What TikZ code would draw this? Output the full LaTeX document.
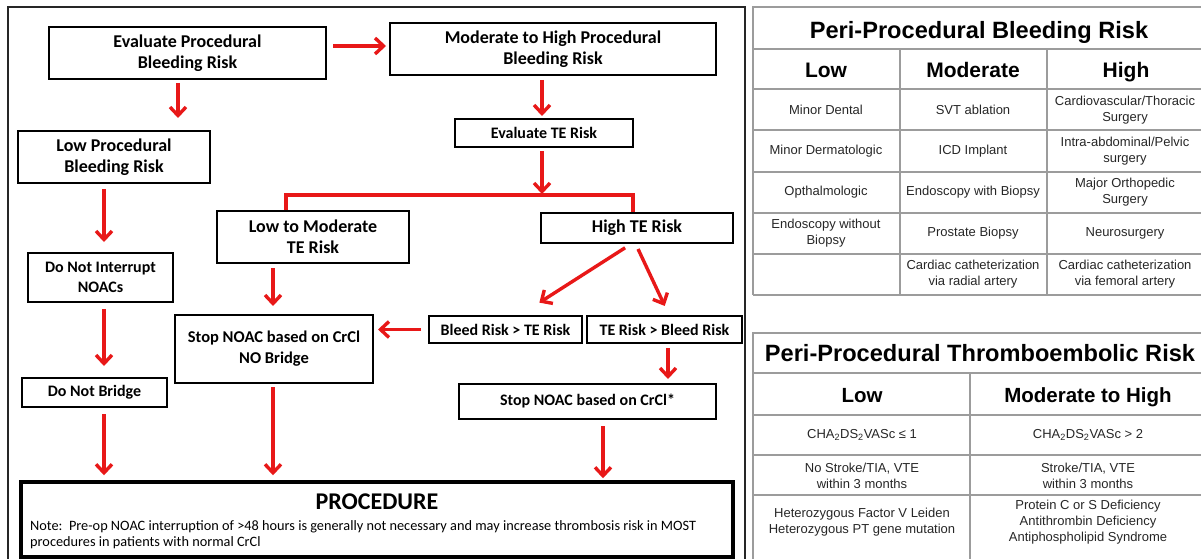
\documentclass[tikz,border=0pt]{standalone}
\usepackage{fontspec}
\setmainfont{Liberation Sans}
\newfontfamily\flowfont{Carlito}
\usepackage{tikz}
\usetikzlibrary{arrows.meta,calc}
\definecolor{arrowred}{HTML}{E81818}
\definecolor{gridgray}{HTML}{9C9C9C}
\definecolor{celltext}{HTML}{262626}
\tikzset{
  bigbox/.style={draw=black, line width=2pt, align=center, inner sep=0pt, font=\flowfont\bfseries\fontsize{18}{21}\selectfont},
  smallbox/.style={bigbox, font=\flowfont\bfseries\fontsize{16}{20}\selectfont},
  procbox/.style={draw=black, line width=3.5pt, inner sep=0pt},
  arr/.style={draw=arrowred, line width=3.4pt, -{Straight Barb[length=8.5pt,width=16pt]}},
  link/.style={draw=arrowred, line width=3.4pt},
  frame/.style={draw=black!85, line width=1.8pt},
  grid/.style={draw=gridgray, line width=1.2pt},
  tabtitle/.style={inner sep=0pt, text height=17pt, text depth=0pt, font=\bfseries\fontsize{23.6}{28}\selectfont},
  tabhead/.style={inner sep=0pt, text height=15pt, text depth=0pt, font=\bfseries\fontsize{21}{25}\selectfont},
  cell/.style={inner sep=0pt, align=center, text=celltext, font=\fontsize{13}{16}\selectfont}
}
\begin{document}
\begin{tikzpicture}[x=1pt,y=-1pt]
  \useasboundingbox (0,0) rectangle (1201,559);

  % flowchart frame
  \draw[frame] (8,570) |- (745,7) -- (745,570);

  % boxes
  \node[bigbox, minimum width=277pt, minimum height=52pt] (eval) at (187.5,53) {Evaluate Procedural\\Bleeding Risk};
  \node[bigbox, minimum width=326pt, minimum height=52pt] (modhigh) at (553,49) {Moderate to High Procedural\\Bleeding Risk};
  \node[bigbox, minimum width=192pt, minimum height=52pt] (lowproc) at (114,157) {Low Procedural\\Bleeding Risk};
  \node[smallbox, minimum width=145pt, minimum height=49pt] (nointerrupt) at (100.5,277.5) {Do Not Interrupt\\NOACs};
  \node[smallbox, minimum width=145pt, minimum height=29pt] (nobridge) at (94.5,392.5) {Do Not Bridge};
  \node[smallbox, minimum width=178pt, minimum height=28pt] (evalte) at (544,133) {Evaluate TE Risk};
  \node[bigbox, minimum width=192pt, minimum height=52pt] (lowmodte) at (313,237) {Low to Moderate\\TE Risk};
  \node[bigbox, minimum width=192pt, minimum height=30pt] (highte) at (637,228) {High TE Risk};
  \node[smallbox, minimum width=153pt, minimum height=27pt] (bleedgt) at (505.5,329.5) {Bleed Risk > TE Risk};
  \node[smallbox, minimum width=155pt, minimum height=27pt] (tegt) at (664.5,329.5) {TE Risk > Bleed Risk};
  \node[smallbox, minimum width=198pt, minimum height=68pt, font=\flowfont\bfseries\fontsize{16.5}{21}\selectfont] (stopnob) at (274,349) {Stop NOAC based on CrCl\\NO Bridge};
  \node[smallbox, minimum width=257pt, minimum height=35pt] (stopstar) at (587.5,401.5) {Stop NOAC based on CrCl*};
  \node[procbox, minimum width=712pt, minimum height=75pt] (proc) at (377,519.5) {};
  \node[inner sep=0pt, font=\flowfont\bfseries\fontsize{24}{28}\selectfont] (proctitle) at (377,502) {PROCEDURE};
  \node[inner sep=0pt, anchor=west, align=left, font=\flowfont\fontsize{14.3}{16}\selectfont] (procnote) at (30,535)
    {Note:\ \ Pre-op NOAC interruption of >48 hours is generally not necessary and may increase thrombosis risk in MOST\\procedures in patients with normal CrCl};

  % connectors
  \draw[arr, shorten <=6pt, shorten >=3pt] ([yshift=7pt]eval.east) -- ([yshift=3pt]modhigh.west);
  \draw[arr, shorten <=3pt, shorten >=12pt] ([xshift=-9.5pt]eval.south) -- ([xshift=-9.5pt]eval.south |- lowproc.north);
  \draw[arr, shorten <=5pt, shorten >=10pt] ([xshift=3.5pt]nointerrupt.north |- lowproc.south) -- ([xshift=3.5pt]nointerrupt.north);
  \draw[arr, shorten <=6pt, shorten >=11pt] ([xshift=3.5pt]nointerrupt.south) -- ([xshift=3.5pt]nointerrupt.south |- nobridge.north);
  \draw[arr, shorten <=6pt, shorten >=5pt] ([xshift=9.5pt]nobridge.south) -- ([xshift=9.5pt]nobridge.south |- proc.north);
  \draw[arr, shorten <=4pt, shorten >=2pt] ([xshift=-2pt]evalte.north |- modhigh.south) -- ([xshift=-2pt]evalte.north);
  \coordinate (split) at (542,195);
  \draw[arr, shorten <=3pt, shorten >=1pt] ([xshift=-2pt]evalte.south) -- (split);
  \draw[link] ([xshift=-27pt]lowmodte.north) |- (split) -| ([xshift=-4pt]highte.north);
  \draw[arr, shorten <=4pt, shorten >=8pt] ([xshift=-1pt]stopnob.north |- lowmodte.south) -- ([xshift=-1pt]stopnob.north);
  \draw[arr, shorten <=7pt, shorten >=23pt] ([xshift=-6pt]highte.south) -- ([xshift=14.5pt]bleedgt.north);
  \draw[arr, shorten <=5.5pt, shorten >=10pt] ([xshift=-1.3pt]highte.south) -- ([xshift=4.5pt]tegt.north);
  \draw[arr, shorten <=7pt, shorten >=4pt] (bleedgt.west) -- (bleedgt.west -| stopnob.east);
  \draw[arr, shorten <=4pt, shorten >=4pt] ([xshift=3.5pt]tegt.south) -- ([xshift=3.5pt]tegt.south |- stopstar.north);
  \draw[arr, shorten <=3pt, shorten >=5pt] ([xshift=-1pt]stopnob.south) -- ([xshift=-1pt]stopnob.south |- proc.north);
  \draw[arr, shorten <=6pt, shorten >=2pt] ([xshift=15.5pt]stopstar.south) -- ([xshift=15.5pt]stopstar.south |- proc.north);

  % bleeding risk table
  \draw[grid] (1210,7) -- (753,7) -- (753,295);
  \foreach \y in {49,89,130,172,213,254,295}
    \draw[grid] (753,\y) -- (1210,\y);
  \draw[grid] (900,49) -- (900,295);
  \draw[grid] (1047,49) -- (1047,295);
  \node[tabtitle] (bleedtitle) at (979,30) {Peri-Procedural Bleeding Risk};
  \node[tabhead] (bleedlow) at (826,70) {Low};
  \node[tabhead] (bleedmod) at (973,70) {Moderate};
  \node[tabhead] (bleedhigh) at (1126,70) {High};
  \node[cell] (b1a) at (826,110) {Minor Dental};
  \node[cell] (b1b) at (973,110) {SVT ablation};
  \node[cell] (b1c) at (1125,110) {Cardiovascular/Thoracic\\Surgery};
  \node[cell] (b2a) at (826,151) {Minor Dermatologic};
  \node[cell] (b2b) at (973,151) {ICD Implant};
  \node[cell] (b2c) at (1125,151) {Intra-abdominal/Pelvic\\surgery};
  \node[cell] (b3a) at (826,192.5) {Opthalmologic};
  \node[cell] (b3b) at (973,192.5) {Endoscopy with Biopsy};
  \node[cell] (b3c) at (1125,192.5) {Major Orthopedic\\Surgery};
  \node[cell] (b4a) at (826,233.5) {Endoscopy without\\Biopsy};
  \node[cell] (b4b) at (973,233.5) {Prostate Biopsy};
  \node[cell] (b4c) at (1125,233.5) {Neurosurgery};
  \node[cell] (b5b) at (973,274.5) {Cardiac catheterization\\via radial artery};
  \node[cell] (b5c) at (1125,274.5) {Cardiac catheterization\\via femoral artery};

  % thromboembolic risk table
  \draw[grid] (1210,333) -- (753,333) -- (753,570);
  \foreach \y in {373,415,455,495}
    \draw[grid] (753,\y) -- (1210,\y);
  \draw[grid] (970,373) -- (970,570);
  \node[tabtitle] (tetitle) at (980,353) {Peri-Procedural Thromboembolic Risk};
  \node[tabhead, font=\bfseries\fontsize{20.5}{25}\selectfont] (telow) at (862,395) {Low};
  \node[tabhead, font=\bfseries\fontsize{20.5}{25}\selectfont] (temod) at (1088,395) {Moderate to High};
  \node[cell] (t1a) at (862,435) {CHA\textsubscript{2}DS\textsubscript{2}VASc ≤ 1};
  \node[cell] (t1b) at (1088,435) {CHA\textsubscript{2}DS\textsubscript{2}VASc > 2};
  \node[cell] (t2a) at (862,475.5) {No Stroke/TIA, VTE\\within 3 months};
  \node[cell] (t2b) at (1088,475.5) {Stroke/TIA, VTE\\within 3 months};
  \node[cell] (t3a) at (862,522.5) {Heterozygous Factor V Leiden\\Heterozygous PT gene mutation};
  \node[cell] (t3b) at (1088,522.5) {Protein C or S Deficiency\\Antithrombin Deficiency\\Antiphospholipid Syndrome};
\end{tikzpicture}
\end{document}
